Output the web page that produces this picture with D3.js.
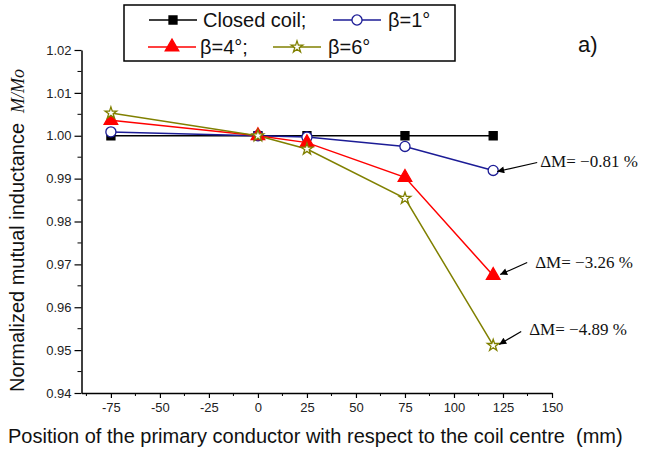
<!DOCTYPE html>
<html>
<head>
<meta charset="utf-8">
<script src="https://cdn.jsdelivr.net/npm/d3@7"></script>
<style>
  body { margin: 0; background: #fff; }
  svg { display: block; }
</style>
</head>
<body>
<div id="chart"></div>
<script>
// data
var positions = [-75, 0, 25, 75, 120];
var closedCoil = [1.0000, 1.0000, 1.0000, 1.0000, 1.0000];
var beta1 = [1.0009, 1.0000, 0.9997, 0.9975, 0.9919];
var beta4 = [1.0036, 1.0000, 0.9984, 0.9903, 0.9674];
var beta6 = [1.0053, 1.0000, 0.9969, 0.9854, 0.9511];
var seriesNames = ["Closed coil;", "\u03B2=1\u00B0", "\u03B2=4\u00B0;", "\u03B2=6\u00B0"];
var xTicks = [-75, -50, -25, 0, 25, 50, 75, 100, 125, 150];
var yTicks = [0.94, 0.95, 0.96, 0.97, 0.98, 0.99, 1.00, 1.01, 1.02];
var deltaLabels = ["\u0394M= \u22120.81 %", "\u0394M= \u22123.26 %", "\u0394M= \u22124.89 %"];

var W = 646, H = 455;
var x = d3.scaleLinear().domain([-90, 150]).range([81.5, 552]);
var y = d3.scaleLinear().domain([0.94, 1.02]).range([393, 50]);

var svg = d3.select("#chart").append("svg").attr("width", W).attr("height", H);

// axes
var xAxis = svg.append("g").attr("transform", "translate(0," + y(0.94) + ")");
xAxis.call(d3.axisBottom(x).tickValues(xTicks).tickSize(5).tickSizeOuter(0).tickPadding(5)
  .tickFormat(function(d){ return String(d); }));
var xMinor = d3.range(-87.5, 150, 25);
xAxis.selectAll(".minor").data(xMinor).enter().append("line")
  .attr("class", "minor").attr("x1", x).attr("x2", x).attr("y1", 0).attr("y2", 3)
  .attr("stroke", "#000");

var yAxis = svg.append("g").attr("transform", "translate(" + x(-90) + ",0)");
yAxis.call(d3.axisLeft(y).tickValues(yTicks).tickSize(7).tickSizeOuter(0).tickPadding(3).tickFormat(d3.format(".2f")));
var yMinor = d3.range(0.945, 1.02, 0.01);
yAxis.selectAll(".minor").data(yMinor).enter().append("line")
  .attr("class", "minor").attr("y1", y).attr("y2", y).attr("x1", 0).attr("x2", -4)
  .attr("stroke", "#000");

svg.selectAll(".domain").attr("stroke", "#000").attr("stroke-width", 1.5);
svg.selectAll(".tick line").attr("stroke", "#000").attr("stroke-width", 1.2);
svg.selectAll(".tick text")
  .style("font-family", "'Liberation Sans', Arial, sans-serif")
  .style("font-size", "13px")
  .attr("fill", "#222");

// axis titles
svg.append("text")
  .attr("x", 8).attr("y", 443)
  .style("font-family", "'Liberation Sans', Arial, sans-serif")
  .style("font-size", "20px")
  .style("white-space", "pre")
  .attr("fill", "#111")
  .text("Position of the primary conductor with respect to the coil centre  (mm)");

var yTitle = svg.append("text")
  .attr("transform", "translate(24,392) rotate(-90)")
  .style("font-family", "'Liberation Sans', Arial, sans-serif")
  .style("font-size", "20px")
  .attr("fill", "#111");
yTitle.append("tspan").text("Normalized mutual inductance");
yTitle.append("tspan").attr("dx", 10)
  .style("font-family", "'Liberation Serif', 'Times New Roman', serif")
  .style("font-style", "italic")
  .style("font-size", "18px")
  .text("M/Mo");

// series
var series = [
  { name: seriesNames[0], values: closedCoil, color: "#000000", symbol: d3.symbolSquare, size: 64, fill: "#000000" },
  { name: seriesNames[1], values: beta1, color: "#1c1c96", symbol: d3.symbolCircle, size: 80, fill: "#ffffff" },
  { name: seriesNames[2], values: beta4, color: "#ff0000", symbol: d3.symbolTriangle, size: 80, fill: "#ff0000" },
  { name: seriesNames[3], values: beta6, color: "#808000", symbol: d3.symbolStar, size: 42, fill: "#ffffff" }
];

var line = d3.line().x(function(d){ return x(d[0]); }).y(function(d){ return y(d[1]); });

series.forEach(function(s){
  var pts = positions.map(function(p, i){ return [p, s.values[i]]; });
  svg.append("path").datum(pts)
    .attr("d", line).attr("fill", "none")
    .attr("stroke", s.color).attr("stroke-width", 1.5);
});
series.forEach(function(s){
  var pts = positions.map(function(p, i){ return [p, s.values[i]]; });
  svg.selectAll(null).data(pts).enter().append("path")
    .attr("transform", function(d){ return "translate(" + x(d[0]) + "," + y(d[1]) + ")"; })
    .attr("d", d3.symbol().type(s.symbol).size(s.size))
    .attr("fill", s.fill).attr("stroke", s.color).attr("stroke-width", 1.3);
});

// delta M annotations at the last point
svg.append("defs").append("marker")
  .attr("id", "arr").attr("viewBox", "0 0 10 10").attr("refX", 10).attr("refY", 5)
  .attr("markerWidth", 10).attr("markerHeight", 7).attr("markerUnits", "userSpaceOnUse")
  .attr("orient", "auto")
  .append("path").attr("d", "M0,0 L10,5 L0,10 Z").attr("fill", "#000");

// [arrow start dx, dy, tip dx, dy, text dx, dy]
var annOffsets = [[44, -8, 4, 1, 47, -3], [34, -13, 7, -1, 42, -8], [28, -14, 6, -1, 36, -10]];
[beta1, beta4, beta6].forEach(function(vals, i){
  var px = x(positions[4]), py = y(vals[4]);
  var o = annOffsets[i];
  svg.append("line")
    .attr("x1", px + o[0]).attr("y1", py + o[1])
    .attr("x2", px + o[2]).attr("y2", py + o[3])
    .attr("stroke", "#000").attr("stroke-width", 1.2)
    .attr("marker-end", "url(#arr)");
  svg.append("text")
    .attr("x", px + o[4]).attr("y", py + o[5])
    .style("font-family", "'Liberation Serif', 'Times New Roman', serif")
    .style("font-size", "17px")
    .attr("fill", "#111")
    .text(deltaLabels[i]);
});

// legend
var legend = svg.append("g");
legend.append("rect").attr("x", 124).attr("y", 5).attr("width", 331).attr("height", 56)
  .attr("fill", "#fff").attr("stroke", "#000").attr("stroke-width", 1.5);
var legPos = [[149, 20, 203], [333, 20, 388], [148, 47, 200], [273, 47, 328]];
series.forEach(function(s, i){
  var lp = legPos[i];
  legend.append("line").attr("x1", lp[0]).attr("x2", lp[0] + 48).attr("y1", lp[1]).attr("y2", lp[1])
    .attr("stroke", s.color).attr("stroke-width", 1.5);
  legend.append("path")
    .attr("transform", "translate(" + (lp[0] + 24) + "," + lp[1] + ")")
    .attr("d", d3.symbol().type(s.symbol).size(s.size))
    .attr("fill", s.fill).attr("stroke", s.color).attr("stroke-width", 1.3);
  legend.append("text").attr("x", lp[2]).attr("y", lp[1] + 7)
    .style("font-family", "'Liberation Sans', Arial, sans-serif")
    .style("font-size", "20px")
    .attr("fill", "#111")
    .text(s.name);
});

// panel label
svg.append("text").attr("x", 578).attr("y", 52)
  .style("font-family", "'Liberation Sans', Arial, sans-serif")
  .style("font-size", "22px")
  .attr("fill", "#111")
  .text("a)");
</script>
</body>
</html>
